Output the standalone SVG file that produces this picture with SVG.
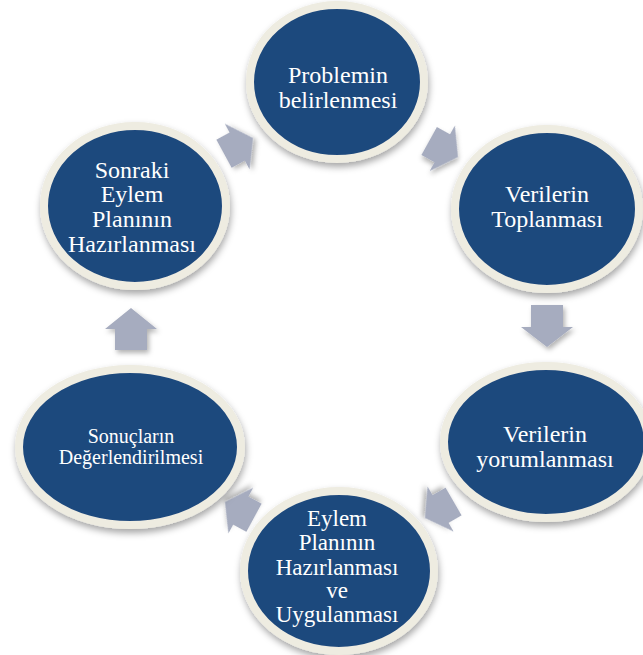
<svg xmlns="http://www.w3.org/2000/svg" xmlns:xlink="http://www.w3.org/1999/xlink" width="643" height="655" viewBox="0 0 643 655">
  <style>
    .node { fill: #1F497D; stroke: #EEECE1; stroke-width: 8; filter: url(#shadow); }
    .lbl { fill: #FFFFFF; font-family: "Liberation Serif", "Times New Roman", serif; font-size: 24px; text-anchor: middle; }
    .mid { font-size: 23px; }
    .small { font-size: 20px; }
    .arrow { fill: #A6ACBF; filter: url(#ashadow); }
  </style>
  <defs>
    <filter id="shadow" x="-20%" y="-20%" width="140%" height="150%">
      <feDropShadow dx="1" dy="4" stdDeviation="3.5" flood-color="#000000" flood-opacity="0.35"/>
    </filter>
    <filter id="ashadow" x="-40%" y="-40%" width="180%" height="180%">
      <feDropShadow dx="2" dy="3" stdDeviation="2.5" flood-color="#000000" flood-opacity="0.3"/>
    </filter>
    <polygon id="diag" points="0,0 -18,-26 -18,-16 -33,-16 -33,16 -18,16 -18,26"/>
  </defs>
  <rect width="643" height="655" fill="#FFFFFF"/>

  <g id="connectors">
    <use xlink:href="#diag" href="#diag" class="arrow" transform="translate(253,138) rotate(-28.5)"/>
    <use xlink:href="#diag" href="#diag" class="arrow" transform="translate(458,157) rotate(29)"/>
    <polygon class="arrow" points="547,347 573,327 563,327 563,305 531,305 531,327 521,327"/>
    <use xlink:href="#diag" href="#diag" class="arrow" transform="translate(425,518) rotate(150)"/>
    <use xlink:href="#diag" href="#diag" class="arrow" transform="translate(225,502) rotate(-151.5)"/>
    <polygon class="arrow" points="131,308 157,329 147,329 147,350 115,350 115,329 105,329"/>
  </g>

  <g id="node1">
    <ellipse class="node" cx="337" cy="82" rx="87" ry="77"/>
    <text class="lbl" x="338" y="83">Problemin</text>
    <text class="lbl" x="338" y="108">belirlenmesi</text>
  </g>
  <g id="node2">
    <ellipse class="node" cx="547" cy="209" rx="92" ry="80"/>
    <text class="lbl" x="547" y="202">Verilerin</text>
    <text class="lbl" x="547" y="227">Toplanması</text>
  </g>
  <g id="node3">
    <ellipse class="node" cx="546" cy="442" rx="102" ry="76"/>
    <text class="lbl" x="545" y="442">Verilerin</text>
    <text class="lbl" x="545" y="467">yorumlanması</text>
  </g>
  <g id="node4">
    <ellipse class="node" cx="339" cy="571" rx="95" ry="80"/>
    <text class="lbl mid" x="337" y="526">Eylem</text>
    <text class="lbl mid" x="337" y="550">Planının</text>
    <text class="lbl mid" x="337" y="575">Hazırlanması</text>
    <text class="lbl mid" x="337" y="598">ve</text>
    <text class="lbl mid" x="337" y="622">Uygulanması</text>
  </g>
  <g id="node5">
    <ellipse class="node" cx="130" cy="447" rx="111" ry="78"/>
    <text class="lbl small" x="131" y="443">Sonuçların</text>
    <text class="lbl small" x="131" y="464">Değerlendirilmesi</text>
  </g>
  <g id="node6">
    <ellipse class="node" cx="135" cy="206" rx="91" ry="80"/>
    <text class="lbl" x="132" y="178">Sonraki</text>
    <text class="lbl" x="132" y="202">Eylem</text>
    <text class="lbl" x="132" y="227">Planının</text>
    <text class="lbl" x="132" y="252">Hazırlanması</text>
  </g>
</svg>
